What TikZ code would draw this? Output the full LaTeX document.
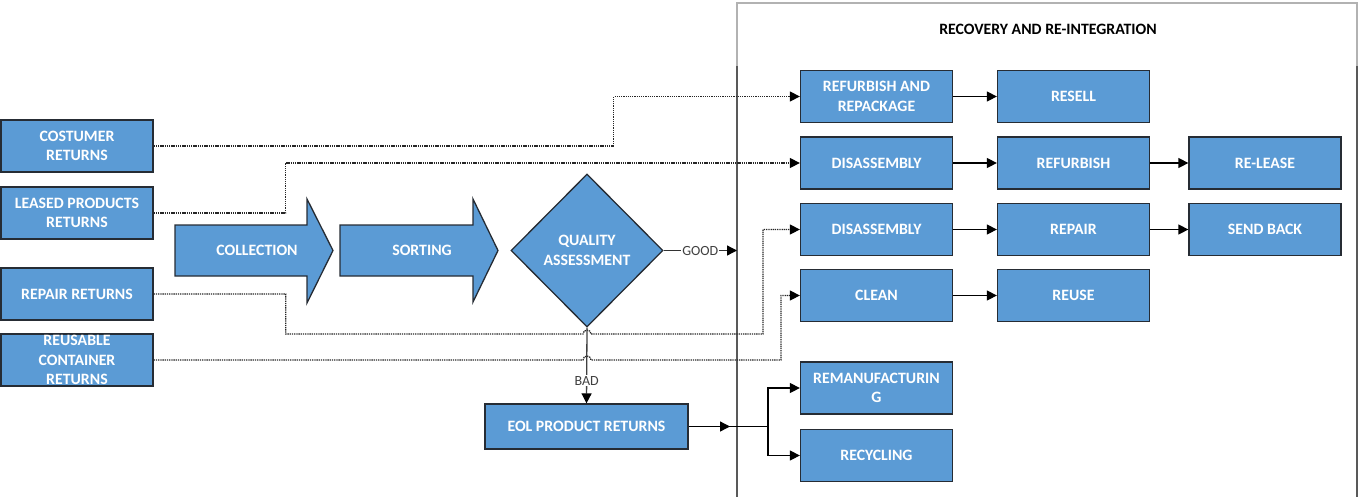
\documentclass[tikz,border=0pt]{standalone}
\usepackage{fontspec}
\setmainfont{Carlito}
\usetikzlibrary{shapes.geometric,arrows.meta,calc}
\definecolor{boxblue}{RGB}{91,155,213}
\definecolor{boxline}{RGB}{38,44,52}
\tikzset{
  box/.style={draw=boxline, line width=1.3pt, fill=boxblue, text=white,
    font=\bfseries\fontsize{15.8}{19.5}\selectfont, align=center,
    minimum width=152pt, minimum height=52pt, inner sep=0pt},
  bigarrow/.style={draw=boxline, line width=1.3pt, fill=boxblue},
  arrowtext/.style={text=white, font=\bfseries\fontsize{15.8}{19.5}\selectfont, align=center, inner sep=0pt},
  conn/.style={draw=black, line width=1.3pt},
  tip/.style={-{Triangle[length=10pt,width=10pt,color=black]}},
  arr/.style={conn, tip},
  dotconn/.style={draw=black!85, line width=1.3pt, dash pattern=on 1.3pt off 0.9pt, tip},
  lbl/.style={text=black!75, font=\fontsize{14}{16}\selectfont, fill=white, inner sep=1pt},
}
\begin{document}
\begin{tikzpicture}[x=1pt,y=-1pt]
\useasboundingbox (0,0) rectangle (1362,496);
% recovery frame
\draw[black!30, line width=1.3pt] (737,66) -- (737,3) -- (1357,3) -- (1357,66);
\draw[black!65, line width=1.3pt] (737,66) -- (737,498);
\draw[black!65, line width=1.3pt] (1357,66) -- (1357,498);
\node[font=\bfseries\fontsize{15.8}{17}\selectfont, text=black] (title) at (1048,29) {RECOVERY AND RE-INTEGRATION};

% left return boxes
\node[box] (cr) at (77,146) {COSTUMER\\RETURNS};
\node[box] (lp) at (77,213) {LEASED PRODUCTS\\RETURNS};
\node[box] (rp) at (77,294) {REPAIR RETURNS};
\node[box] (rc) at (77,360) {REUSABLE\\CONTAINER\\RETURNS};

% big arrows
\draw[bigarrow] (175,225) -- (307,225) -- (307,199) -- (333,250.5) -- (307,303) -- (307,276) -- (175,276) -- cycle;
\node[arrowtext] (coll) at (257,250.5) {COLLECTION};
\draw[bigarrow] (340,225) -- (473,225) -- (473,199) -- (498,250.5) -- (473,302) -- (473,276) -- (340,276) -- cycle;
\node[arrowtext] (sort) at (422,250.5) {SORTING};

% quality assessment
\node[diamond, draw=boxline, line width=1.3pt, fill=boxblue, text=white,
  font=\bfseries\fontsize{15.8}{19.5}\selectfont, align=center,
  minimum width=152pt, minimum height=153pt, inner sep=0pt] (qa) at (587,250.5) {QUALITY\\ASSESSMENT};

% EOL
\node[box, minimum width=203pt, minimum height=45pt] (eol) at (586.5,426.5) {EOL PRODUCT RETURNS};

% recovery boxes
\node[box] (rr) at (876.5,96.5) {REFURBISH AND\\REPACKAGE};
\node[box] (resell) at (1073.5,96.5) {RESELL};
\node[box] (dis1) at (876.5,163) {DISASSEMBLY};
\node[box] (refurb) at (1073.5,163) {REFURBISH};
\node[box] (release) at (1265,163) {RE-LEASE};
\node[box] (dis2) at (876.5,229.5) {DISASSEMBLY};
\node[box] (repair) at (1073.5,229.5) {REPAIR};
\node[box] (sendback) at (1265,229.5) {SEND BACK};
\node[box] (clean) at (876.5,295.5) {CLEAN};
\node[box] (reuse) at (1073.5,295.5) {REUSE};
\node[box] (reman) at (876.5,388) {REMANUFACTURIN\\G};
\node[box] (recyc) at (876.5,455.5) {RECYCLING};

% solid connectors
\draw[arr] (rr) -- (resell);
\draw[arr] (dis1) -- (refurb);
\draw[arr] (refurb) -- (release);
\draw[arr] (dis2) -- (repair);
\draw[arr] (repair) -- (sendback);
\draw[arr] (clean) -- (reuse);

% GOOD / BAD
\coordinate (goodend) at (737,250.5);
\draw[draw=black!80, line width=1.3pt, tip] (qa.east) -- node[lbl]{GOOD} (goodend);

% dotted connectors
\draw[dotconn] (cr.east) -- ++(460,0) |- (rr.west);
\draw[dotconn] (lp.east) -- ++(132,0) |- (dis1.west);
\draw[dotconn] (rp.east) -- ++(132,0) |- (583,334) arc[start angle=180,end angle=360,radius=4] -- (763,334) |- (dis2.west);
\draw[dotconn] (rc.east) -- (583,360) arc[start angle=180,end angle=360,radius=4] -- (781,360) |- (clean.west);

\draw[draw=black!75, line width=1.3pt, tip] (qa.south) -- node[lbl, pos=0.7]{BAD} (eol.north);

% EOL branches
\coordinate (split) at (768,426.5);
\draw[arr] (eol.east) -- (730,426.5);
\draw[conn] (725,426.5) -- (split);
\draw[arr] (split) |- (reman.west);
\draw[arr] (split) |- (recyc.west);
\end{tikzpicture}
\end{document}
